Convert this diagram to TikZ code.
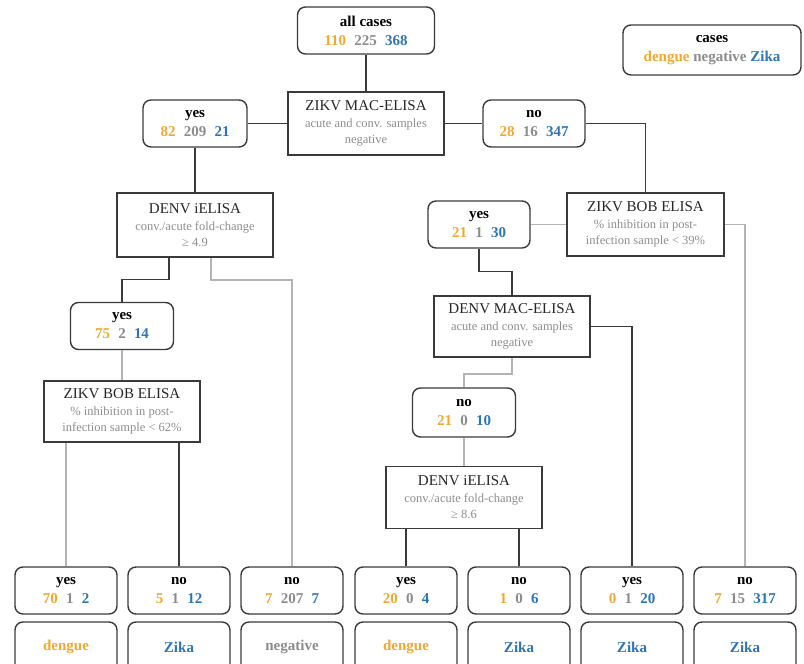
\documentclass[tikz,border=0pt]{standalone}
\usepackage{fontspec}
\setmainfont{Liberation Serif}

\definecolor{dengue}{HTML}{F0A830}
\definecolor{negcol}{HTML}{8C8C8C}
\definecolor{zika}{HTML}{2E75B6}
\definecolor{subgray}{HTML}{8E8E8E}
\definecolor{linedark}{HTML}{3A3A3A}
\definecolor{linegray}{HTML}{B4B4B4}

\newcommand{\tally}[3]{{\color{dengue}#1}\hspace{0.55em}{\color{negcol}#2}\hspace{0.55em}{\color{zika}#3}}
\newcommand{\testnote}[1]{{\fontsize{12.5}{15}\selectfont\color{subgray}#1}}

\tikzset{
    result/.style = {draw=linedark, line width=1.4pt, rounded corners=8pt,
        minimum width=102pt, minimum height=47pt, align=center,
        font=\fontsize{15}{19}\selectfont\bfseries},
    outcome/.style = {result, minimum height=50pt},
    test/.style = {draw=linedark, line width=1.5pt, minimum width=156pt,
        minimum height=62pt, align=center, inner sep=2pt,
        font=\fontsize{15}{16}\selectfont, text=black!85},
    darkline/.style = {draw=linedark, line width=1.3pt},
    greyline/.style = {draw=linegray, line width=1.5pt},
}

\begin{document}
\begin{tikzpicture}[x=1pt, y=-1pt]
    \useasboundingbox (0,0) rectangle (804,664);

    % top of the tree
    \node[result, minimum width=137pt] (all) at (366,30.5) {all cases\\\tally{110}{225}{368}};
    \node[result, minimum width=178pt, minimum height=50pt] (key) at (712,50)
        {cases\\{\color{dengue}dengue} {\color{negcol}negative} {\color{zika}Zika}};
    \node[test, minimum height=63pt] (zmac) at (366,123.5)
        {ZIKV MAC-ELISA\\[1pt]\testnote{acute and conv. samples}\\\testnote{negative}};
    \node[result, minimum width=104pt] (zyes) at (195,123.5) {yes\\\tally{82}{209}{21}};
    \node[result] (zno) at (534,123.5) {no\\\tally{28}{16}{347}};

    % left branch
    \node[test, minimum height=64pt] (die1) at (195,225)
        {DENV iELISA\\[1pt]\testnote{conv./acute fold-change}\\\testnote{≥ 4.9}};
    \node[result, minimum width=103pt] (dyes1) at (122,326) {yes\\\tally{75}{2}{14}};
    \node[test, minimum height=61pt] (zbob1) at (122,411.5)
        {ZIKV BOB ELISA\\[1pt]\testnote{\% inhibition in post-}\\\testnote{infection sample < 62\%}};

    % right branch
    \node[test, minimum width=157pt, minimum height=63pt] (zbob2) at (645.5,224.5)
        {ZIKV BOB ELISA\\[1pt]\testnote{\% inhibition in post-}\\\testnote{infection sample < 39\%}};
    \node[result] (byes2) at (479,224.5) {yes\\\tally{21}{1}{30}};
    \node[test, minimum height=61pt] (dmac) at (512,326.5)
        {DENV MAC-ELISA\\[1pt]\testnote{acute and conv. samples}\\\testnote{negative}};
    \node[result, minimum width=103pt, minimum height=49pt] (mno) at (464,412.5) {no\\\tally{21}{0}{10}};
    \node[test] (die2) at (464,497.5)
        {DENV iELISA\\[1pt]\testnote{conv./acute fold-change}\\\testnote{≥ 8.6}};

    % bottom row
    \node[result] (r1) at (66,590.5) {yes\\\tally{70}{1}{2}};
    \node[result] (r2) at (179,590.5) {no\\\tally{5}{1}{12}};
    \node[result] (r3) at (292,590.5) {no\\\tally{7}{207}{7}};
    \node[result] (r4) at (406,590.5) {yes\\\tally{20}{0}{4}};
    \node[result] (r5) at (519,590.5) {no\\\tally{1}{0}{6}};
    \node[result] (r6) at (632,590.5) {yes\\\tally{0}{1}{20}};
    \node[result] (r7) at (745,590.5) {no\\\tally{7}{15}{317}};

    \node[outcome, text=dengue] (o1) at (66,647) {dengue};
    \node[outcome, text=zika] (o2) at (179,647) {Zika};
    \node[outcome, text=negcol] (o3) at (292,647) {negative};
    \node[outcome, text=dengue] (o4) at (406,647) {dengue};
    \node[outcome, text=zika] (o5) at (519,647) {Zika};
    \node[outcome, text=zika] (o6) at (632,647) {Zika};
    \node[outcome, text=zika] (o7) at (745,647) {Zika};

    % connectors
    \draw[darkline] (all.south) -- (zmac.north);
    \draw[darkline] (zmac.west) -- (zyes.east);
    \draw[darkline] (zmac.east) -- (zno.west);
    \draw[darkline] (zno.east) -| (zbob2.north);
    \draw[darkline] (zyes.south) -- (die1.north);
    \draw[darkline] ([xshift=-26pt]die1.south) -- ++(0,22) -| (dyes1.north);
    \draw[greyline] ([xshift=16pt]die1.south) -- ++(0,22) -| (r3.north);
    \draw[greyline] (dyes1.south) -- (zbob1.north);
    \draw[greyline] (zbob1.south -| r1.north) -- (r1.north);
    \draw[darkline] (zbob1.south -| r2.north) -- (r2.north);

    \draw[greyline] (zbob2.west) -- (byes2.east);
    \draw[greyline] (zbob2.east) -| (r7.north);
    \draw[darkline] (byes2.south) -- ++(0,23) -| (dmac.north);
    \draw[darkline] (dmac.east) -| (r6.north);
    \draw[greyline] (dmac.south) -- ++(0,16) -| (mno.north);
    \draw[greyline] (mno.south) -- (die2.north);
    \draw[darkline] (die2.south -| r4.north) -- (r4.north);
    \draw[darkline] (die2.south -| r5.north) -- (r5.north);
\end{tikzpicture}
\end{document}
